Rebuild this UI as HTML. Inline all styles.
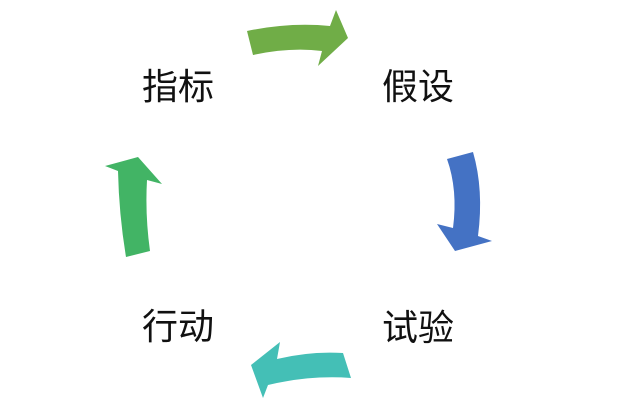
<!DOCTYPE html>
<html><head><meta charset="utf-8"><style>
html,body{margin:0;padding:0;background:#fff;}
svg{display:block;}
text{font-family:"Liberation Sans","Noto Sans CJK SC",sans-serif;font-size:36px;fill:#111;}
</style></head><body>
<svg width="618" height="410" viewBox="0 0 618 410" xmlns="http://www.w3.org/2000/svg">
<!-- top green arrow -->
<path d="M247,31 Q290,22 330,26 L336,10 L348,38 L318,66 L322,51 Q290,47 253,55 Z" fill="#70ad47"/>
<!-- right blue arrow -->
<path d="M447,159 L473,152 Q484,190 478,236 L492,241 L455,251 L437,224 L453,228 Q458,190 447,159 Z" fill="#4472c4"/>
<!-- bottom teal arrow -->
<path d="M343,353 L351,378 Q310,375 268,385 L263,398 L251,365 L280,342 L277,359 Q310,351 343,353 Z" fill="#44bfb6"/>
<!-- left green arrow -->
<path d="M126,257 L150,251 Q145,215 147,180 L162,184 L138,157 L105,166 L118,171 Q119,215 126,257 Z" fill="#42b465"/>
<text x="142" y="99">指标</text>
<text x="382" y="99">假设</text>
<text x="142" y="339">行动</text>
<text x="382" y="340">试验</text>
</svg>
</body></html>
